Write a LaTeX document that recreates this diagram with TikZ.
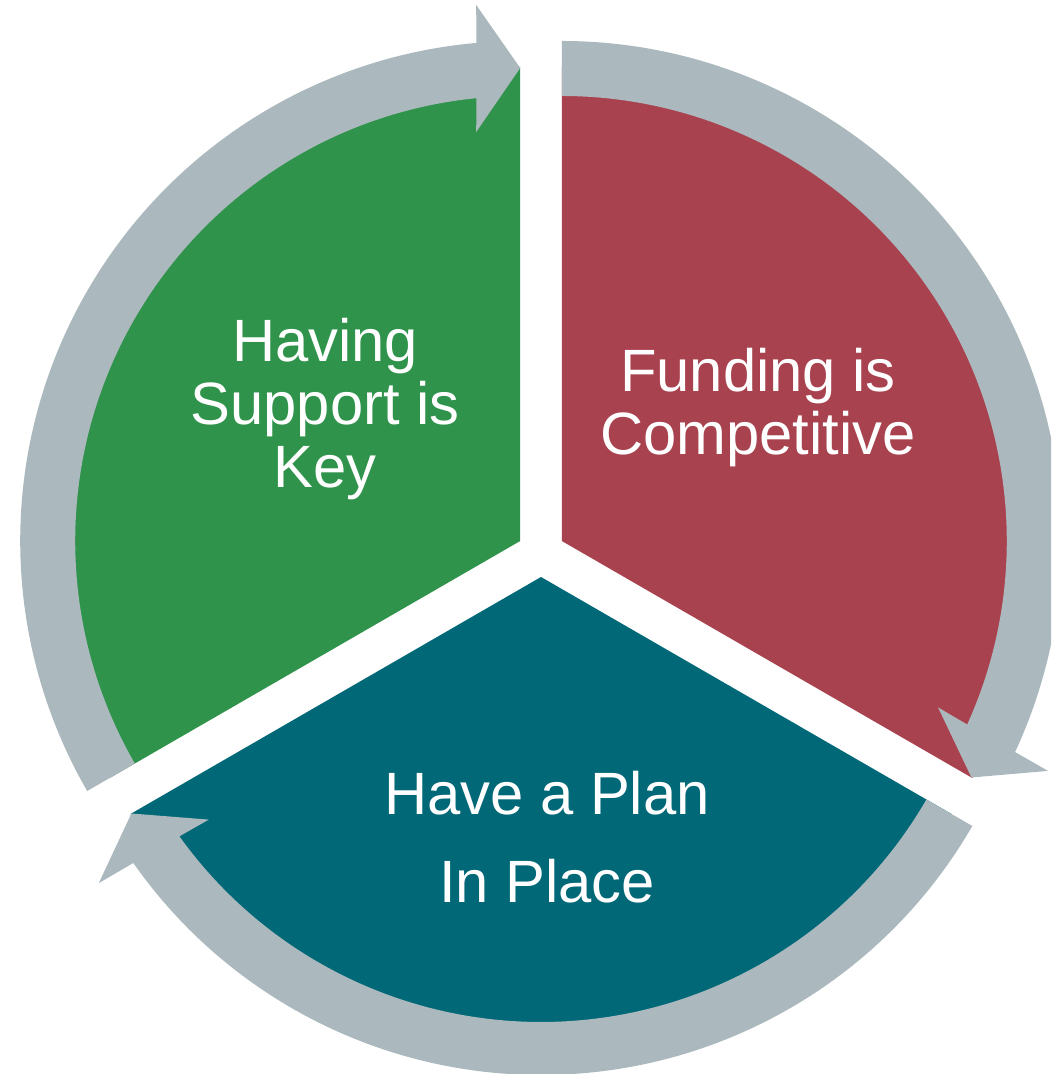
\documentclass[tikz,border=0pt]{standalone}
\usepackage{fontspec}
\setmainfont{Liberation Sans}
\definecolor{segGreen}{HTML}{2F934B}
\definecolor{segRed}{HTML}{A9424F}
\definecolor{segTeal}{HTML}{006877}
\definecolor{ringGray}{HTML}{ABB8BD}

\begin{document}
\begin{tikzpicture}[x=0.02cm,y=0.02cm]
\tikzstyle{every node}+=[inner sep=0pt]
\tikzstyle{ring}=[fill=ringGray]
\tikzstyle{segtext}=[text=white, align=center, font=\fontsize{34}{35.9}\selectfont]
\clip (0,0) rectangle (1051,1074);
\fill [segGreen] (520.2,533) -- ++(90:474) arc (90:210:474) -- cycle;
\fill [segRed] (561.8,533) -- ++(90:474) arc (90:-30:474) -- cycle;
\fill [segTeal] (541,497) -- ++(-30:474) arc (-30:-150:474) -- cycle;
\fill [ring, shift={(520.2,533)}, rotate=90] (120:500) arc (120:5.03:500) -- (536,44) -- (473,0) -- (409,44) -- (5.65:445) arc (5.65:120:445) -- cycle;
\fill [ring, shift={(561.8,533)}, rotate=-30] (120:500) arc (120:5.03:500) -- (536,44) -- (473,0) -- (409,44) -- (5.65:445) arc (5.65:120:445) -- cycle;
\fill [ring, shift={(541,497)}, rotate=-150] (120:498) arc (120:5.05:498) -- (536,44) -- (473,0) -- (409,44) -- (5.65:445) arc (5.65:120:445) -- cycle;
\node [segtext] (support) at (325,665) {Having\\Support is\\Key};
\node [segtext] (funding) at (758,666) {Funding is\\Competitive};
\node [segtext, font=\fontsize{34}{50.1}\selectfont] (plan) at (547,237) {Have a Plan\\In Place};
\end{tikzpicture}
\end{document}
